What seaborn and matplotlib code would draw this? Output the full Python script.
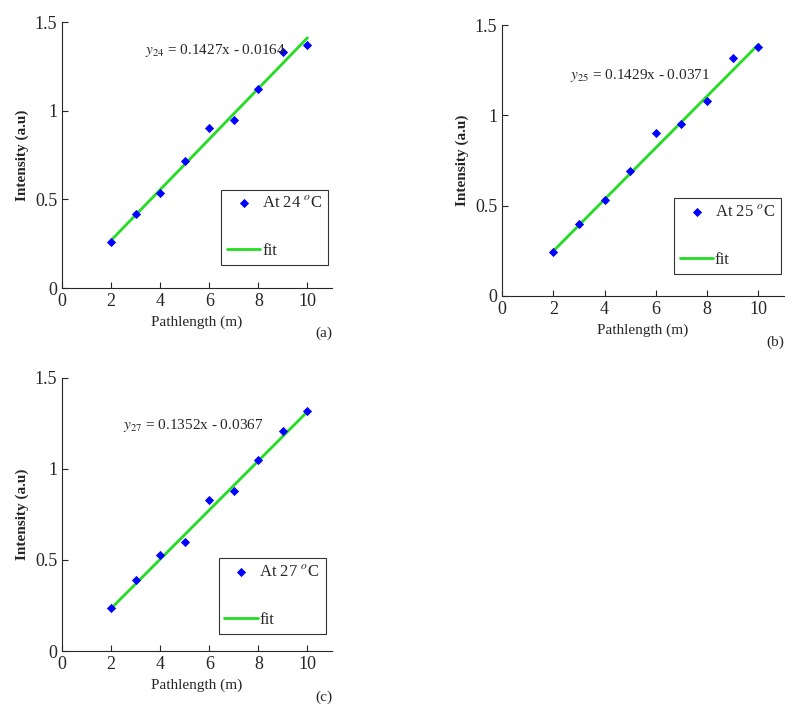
import numpy as np
import pandas as pd
import matplotlib
matplotlib.use("Agg")
import matplotlib.pyplot as plt
import seaborn as sns

# pathlength (m) and measured intensities
pathlength = [2, 3, 4, 5, 6, 7, 8, 9, 10]
intensity_24 = [0.257, 0.42, 0.533, 0.717, 0.90, 0.95, 1.12, 1.33, 1.37]
intensity_25 = [0.245, 0.40, 0.53, 0.69, 0.90, 0.95, 1.08, 1.32, 1.38]
intensity_27 = [0.235, 0.39, 0.53, 0.60, 0.83, 0.88, 1.05, 1.21, 1.32]

temps = [24, 25, 27]
slopes = [0.1427, 0.1429, 0.1352]
intercepts = [-0.0164, -0.0371, -0.0367]
panel_tags = ["(a)", "(b)", "(c)"]

sns.set_style("ticks")
plt.rcParams['font.family'] = ['Liberation Serif', 'DejaVu Serif']
plt.rcParams['mathtext.fontset'] = 'stix'

fig = plt.figure(figsize=(7.87, 7.15), dpi=100)
W, H = 787, 715

def px_axes(left, top, width, height):
    return fig.add_axes([left / W, 1 - (top + height) / H, width / W, height / H])

axes = [px_axes(62, 22, 270, 266), px_axes(502, 25, 282, 271), px_axes(62, 378, 270, 273)]
legend_anchor = [(0.59, 0.37), (0.61, 0.36), (0.58, 0.34)]
eq_pos = [(3.4, 1.34), (2.65, 1.22), (2.5, 1.24)]
series = [intensity_24, intensity_25, intensity_27]

for i, ax in enumerate(axes):
    df = pd.DataFrame({"x": pathlength, "y": series[i]})
    df["fit"] = slopes[i] * df["x"] + intercepts[i]
    sns.scatterplot(data=df, x="x", y="y", ax=ax, marker="D", color="blue",
                    s=22, edgecolor="blue", linewidth=0, zorder=3,
                    label=f"At {temps[i]} $^{{o}}$C")
    sns.lineplot(data=df, x="x", y="fit", ax=ax, color="#22dd22", linewidth=2,
                 label="fit", zorder=2)
    ax.set_xlim(0, 11)
    ax.set_ylim(0, 1.5)
    ax.set_xticks([0, 2, 4, 6, 8, 10])
    ax.set_yticks([0, 0.5, 1, 1.5])
    ax.set_yticklabels(["0", "0.5", "1", "1.5"])
    ax.tick_params(direction="in", labelsize=13, length=4)
    sns.despine(ax=ax)
    ax.set_xlabel("Pathlength (m)", fontsize=11)
    ax.set_ylabel("Intensity (a.u)", fontsize=11, fontweight="bold")
    ax.text(1.0, -0.17, panel_tags[i], transform=ax.transAxes, fontsize=11,
            ha="right", va="center")
    ex, ey = eq_pos[i]
    ax.text(ex, ey, f"$y_{{{temps[i]}}}$ = {slopes[i]:.4f}x - {abs(intercepts[i]):.4f}",
            fontsize=11, ha="left", va="center")
    leg = ax.legend(loc="upper left", bbox_to_anchor=legend_anchor[i],
                    fontsize=12, frameon=True, fancybox=False, borderpad=0.35,
                    borderaxespad=0, handlelength=2.0, handletextpad=0.1,
                    labelspacing=1.9)
    leg.get_frame().set_edgecolor("black")
    leg.get_frame().set_linewidth(0.8)

fig.savefig("out.png", dpi=100)
